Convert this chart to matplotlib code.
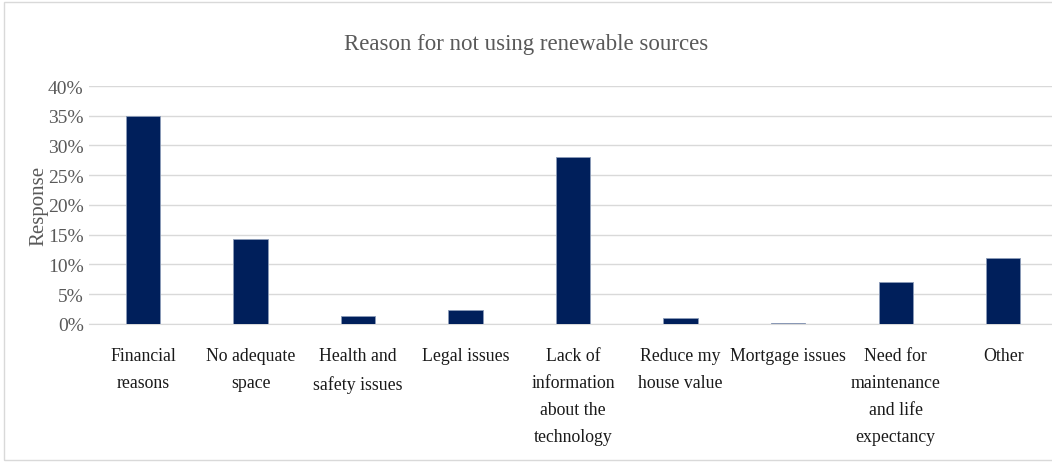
import matplotlib.pyplot as plt
from matplotlib.patches import Rectangle
from matplotlib.ticker import PercentFormatter

plt.rcParams['font.family'] = ['Liberation Serif', 'DejaVu Serif']

categories = ['Financial\nreasons', 'No adequate\nspace', 'Health and\nsafety issues', 'Legal issues',
              'Lack of\ninformation\nabout the\ntechnology', 'Reduce my\nhouse value', 'Mortgage issues',
              'Need for\nmaintenance\nand life\nexpectancy', 'Other']
values = [0.350, 0.143, 0.013, 0.024, 0.281, 0.010, 0.002, 0.071, 0.111]

fig = plt.figure(figsize=(10.52, 4.64), dpi=100)
fig.patches.append(Rectangle((0.004, 0.006), 1.0, 0.988, transform=fig.transFigure,
                             fill=False, edgecolor='#d9d9d9', linewidth=1))
ax = fig.add_axes([0.0848, 0.30, 0.92, 0.5125])

x = range(len(categories))
ax.bar(x, values, width=0.32, color='#001f5b', edgecolor='#8c9cb8', linewidth=0.6, zorder=3)
ax.set_xlim(-0.5, len(categories) - 0.5)
ax.set_ylim(0, 0.40)
ax.set_yticks([0, 0.05, 0.10, 0.15, 0.20, 0.25, 0.30, 0.35, 0.40])
ax.yaxis.set_major_formatter(PercentFormatter(1.0, decimals=0))
ax.grid(axis='y', color='#d9d9d9', linewidth=1, zorder=0)
ax.set_xticks(list(x))
ax.set_xticklabels(categories, fontsize=12.8, color='#1a1a1a', va='top', linespacing=1.75)
ax.tick_params(axis='y', labelsize=14, labelcolor='#595959', length=0, pad=4)
ax.tick_params(axis='x', length=0, pad=17)
for s in ['top', 'right', 'left']:
    ax.spines[s].set_visible(False)
ax.spines['bottom'].set_color('#d9d9d9')
ax.set_ylabel('Response', fontsize=15, color='#595959', labelpad=0)
fig.text(0.5, 0.905, 'Reason for not using renewable sources', ha='center', va='center',
         fontsize=16.5, color='#595959')

fig.savefig('out.png', dpi=100)
